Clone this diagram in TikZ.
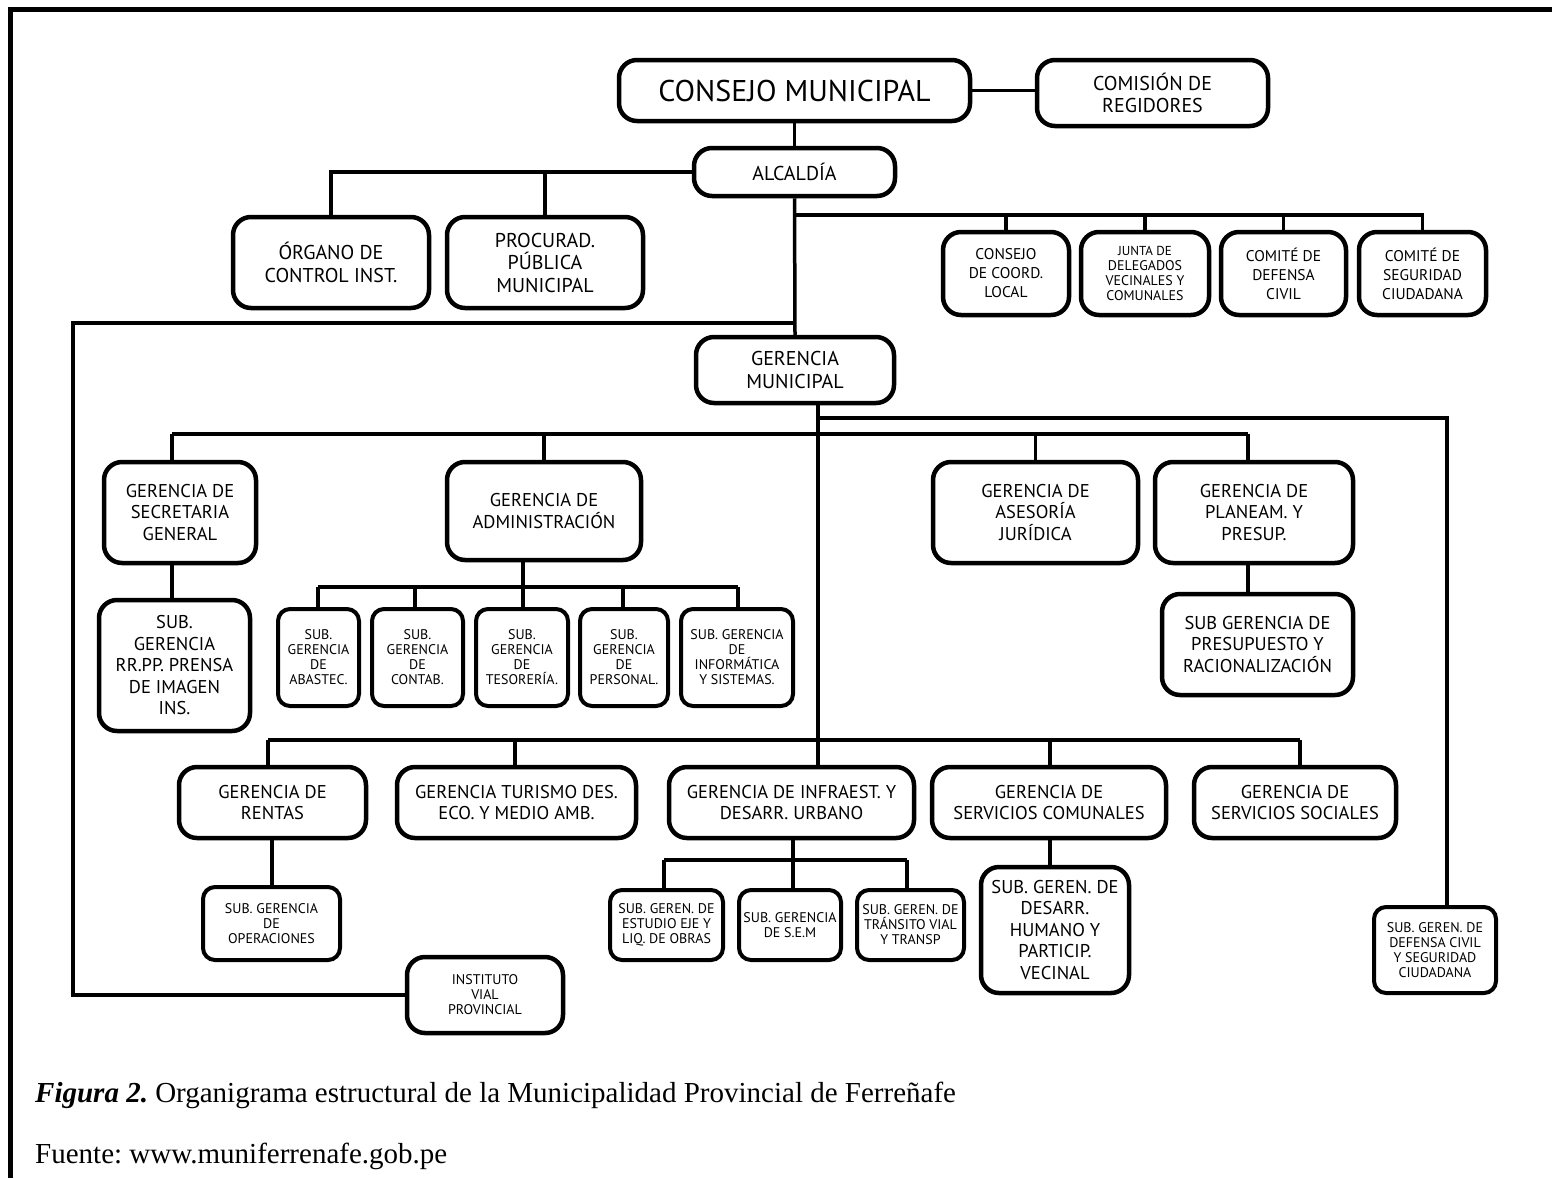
\documentclass[tikz,border=0pt]{standalone}
\usepackage{fontspec}
\setmainfont{Liberation Serif}
\newfontfamily\orgfont{PT Sans}
\usetikzlibrary{calc}
\frenchspacing

% box placed by its outer corners (x1,y1)-(x2,y2)
\newcommand\orgbox[7]{%
  \node[#1, minimum width={(#5)-(#3)-4}, minimum height={(#6)-(#4)-4}]
    (#2) at ({((#3)+(#5))/2},{((#4)+(#6))/2}) {#7};}

\tikzset{
  box/.style={draw, line width=4.5pt, rounded corners=18pt, align=center,
    inner sep=0pt, fill=white},
  sbox/.style={box, line width=4pt, rounded corners=12pt},
  link/.style={line width=3.5pt},
  fxl/.style={font=\orgfont\fontsize{30}{34}\selectfont},
  fl/.style={font=\orgfont\fontsize{20}{22.5}\selectfont},
  fm/.style={font=\orgfont\fontsize{18.5}{21.5}\selectfont},
  fs/.style={font=\orgfont\fontsize{15.5}{19}\selectfont},
  fxs/.style={font=\orgfont\fontsize{14}{15}\selectfont},
}

\begin{document}
\begin{tikzpicture}[x=1pt,y=-1pt]
\useasboundingbox (0,0) rectangle (1552,1178);
% page frame
\draw[line width=5pt] (10.5,1178) -- (10.5,9) -- (1552,9);

% top level
\orgbox{box,fxl}{cm}{617}{58}{972}{123}{CONSEJO MUNICIPAL}
\orgbox{box,fl}{com}{1035}{58}{1270}{128}{COMISIÓN DE\\REGIDORES}
\orgbox{box,fl}{alc}{692}{146}{897}{198}{ALCALDÍA}
\orgbox{box,fl}{org}{231}{215}{431}{310}{ÓRGANO DE\\CONTROL INST.}
\orgbox{box,fl}{pro}{445}{215}{645}{310}{PROCURAD.\\PÚBLICA\\MUNICIPAL}
\orgbox{box,fs}{ccl}{941}{230}{1071}{317}{CONSEJO\\DE COORD.\\LOCAL}
\orgbox{box,fxs}{jdv}{1079}{230}{1211}{317}{\fontsize{13}{13.5}\selectfont JUNTA DE\\DELEGADOS\\VECINALES Y\\COMUNALES}
\orgbox{box,fs}{cdc}{1219}{230}{1348}{317}{COMITÉ DE\\DEFENSA\\CIVIL}
\orgbox{box,fs}{csc}{1357}{230}{1488}{317}{COMITÉ DE\\SEGURIDAD\\CIUDADANA}
\orgbox{box,fl}{gm}{694}{335}{896}{405}{GERENCIA\\MUNICIPAL}

% second level
\orgbox{box,fm}{sg}{102}{460}{258}{565}{GERENCIA DE\\SECRETARIA\\GENERAL}
\orgbox{box,fm}{ga}{445}{460}{643}{562}{GERENCIA DE\\ADMINISTRACIÓN}
\orgbox{box,fm}{aj}{931}{460}{1140}{565}{GERENCIA DE\\ASESORÍA\\JURÍDICA}
\orgbox{box,fm}{pp}{1153}{460}{1355}{565}{GERENCIA DE\\PLANEAM. Y\\PRESUP.}
\orgbox{box,fm}{rr}{97}{598}{252}{733}{\fontsize{18.5}{20}\selectfont SUB.\\GERENCIA\\RR.PP. PRENSA\\DE IMAGEN\\INS.}
\orgbox{sbox,fxs}{sab}{276}{607}{361}{708}{SUB.\\GERENCIA\\DE\\ABASTEC.}
\orgbox{sbox,fxs}{sco}{370}{607}{465}{708}{SUB.\\GERENCIA\\DE\\CONTAB.}
\orgbox{sbox,fxs}{ste}{474}{607}{570}{708}{SUB.\\GERENCIA\\DE\\TESORERÍA.}
\orgbox{sbox,fxs}{spe}{578}{607}{670}{708}{SUB.\\GERENCIA\\DE\\PERSONAL.}
\orgbox{sbox,fxs}{sin}{679}{607}{795}{708}{SUB. GERENCIA\\DE\\INFORMÁTICA\\Y SISTEMAS.}
\orgbox{box,fm}{ps}{1160}{592}{1355}{697}{SUB GERENCIA DE\\PRESUPUESTO Y\\RACIONALIZACIÓN}

% third level
\orgbox{box,fm}{ren}{177}{765}{368}{840}{GERENCIA DE\\RENTAS}
\orgbox{box,fm}{tur}{395}{765}{638}{840}{GERENCIA TURISMO DES.\\ECO. Y MEDIO AMB.}
\orgbox{box,fm}{inf}{667}{765}{916}{840}{GERENCIA DE INFRAEST. Y\\DESARR. URBANO}
\orgbox{box,fm}{scm}{930}{765}{1168}{840}{GERENCIA DE\\SERVICIOS COMUNALES}
\orgbox{box,fm}{sso}{1192}{765}{1398}{840}{GERENCIA DE\\SERVICIOS SOCIALES}
\orgbox{sbox,fxs}{ope}{201}{885}{342}{962}{SUB. GERENCIA\\DE\\OPERACIONES}
\orgbox{sbox,fxs}{est}{608}{888}{725}{962}{SUB. GEREN. DE\\ESTUDIO EJE Y\\LIQ. DE OBRAS}
\orgbox{sbox,fxs}{sem}{737}{888}{843}{962}{SUB. GERENCIA\\DE S.E.M}
\orgbox{sbox,fxs}{tra}{855}{888}{966}{962}{SUB. GEREN. DE\\TRÁNSITO VIAL\\Y TRANSP}
\orgbox{box,fm}{dh}{979}{865}{1131}{995}{\fontsize{18.5}{20.5}\selectfont SUB. GEREN. DE\\DESARR.\\HUMANO Y\\PARTICIP.\\VECINAL}
\orgbox{sbox,fxs}{dcs}{1372}{905}{1498}{995}{SUB. GEREN. DE\\DEFENSA CIVIL\\Y SEGURIDAD\\CIUDADANA}
\orgbox{box,fxs}{ivp}{405}{955}{565}{1035}{INSTITUTO\\VIAL\\PROVINCIAL}

% bus and branch points
\coordinate (ba) at (795,215);
\coordinate (bl) at (73,323);
\coordinate (tk) at (818,740);
\coordinate (br) at (1447,418);
\coordinate (b2) at (818,434);
\coordinate (ad) at (523,587);
\coordinate (id) at (793,860);

% council and mayor
\draw[link] (cm.east) -- (cm.east -| com.west);
\draw[link] (cm.south) -- (alc.north);
\draw[link] (alc.west) -- (alc.west -| org.north) -- (org.north);
\draw[link] (pro.north) -- (pro.north |- alc.west);
\draw[link] (alc.south) -- (gm.north);
\draw[link] (ba) -- (ba -| csc.north) -- (csc.north);
\draw[link] (ccl.north) -- (ccl.north |- ba);
\draw[link] (jdv.north) -- (jdv.north |- ba);
\draw[link] (cdc.north) -- (cdc.north |- ba);
\draw[link] (alc.south |- bl) -- (bl) -- (bl |- ivp.west) -- (ivp.west);

% management trunk
\draw[link] (gm.south -| tk) -- (tk);
\draw[link] (tk |- br) -- (br) -- (br |- dcs.north);
\draw[link] (172,434) -- (1248,434);
\draw[link] (172,434) -- (172,460);
\draw[link] (ga.north) -- (ga.north |- b2);
\draw[link] (aj.north) -- (aj.north |- b2);
\draw[link] (1248,434) -- (1248,460);
\draw[link] (172,565) -- (172,598);
\draw[link] (1248,565) -- (1248,592);

% administration sub-units
\draw[link] (ga.south -| ad) -- (ad);
\draw[link] (318,587) -- (738,587);
\draw[link] (318,587) -- (318,607);
\draw[link] (415,587) -- (415,607);
\draw[link] (ad) -- (ad |- ste.north);
\draw[link] (623,587) -- (623,607);
\draw[link] (738,587) -- (738,607);

% third level bus
\draw[link] (268,740) -- (1300,740);
\draw[link] (268,740) -- (268,765);
\draw[link] (515,740) -- (515,765);
\draw[link] (tk) -- (tk |- inf.north);
\draw[link] (1050,740) -- (1050,765);
\draw[link] (1300,740) -- (1300,765);
\draw[link] (272,840) -- (272,885);
\draw[link] (1050,840) -- (1050,865);

% infrastructure sub-units
\draw[link] (inf.south -| id) -- (id);
\draw[link] (664,860) -- (907,860);
\draw[link] (664,860) -- (664,888);
\draw[link] (id) -- (id |- sem.north);
\draw[link] (907,860) -- (907,888);

% caption
\node[anchor=base west, inner sep=0pt, font=\fontsize{29}{33}\selectfont] (cap) at (35,1102)
  {\textbf{\textit{Figura 2.}} Organigrama estructural de la Municipalidad Provincial de Ferreñafe};
\node[anchor=base west, inner sep=0pt, font=\fontsize{29}{33}\selectfont] (src) at (35,1163)
  {Fuente: www.muniferrenafe.gob.pe};
\end{tikzpicture}
\end{document}
